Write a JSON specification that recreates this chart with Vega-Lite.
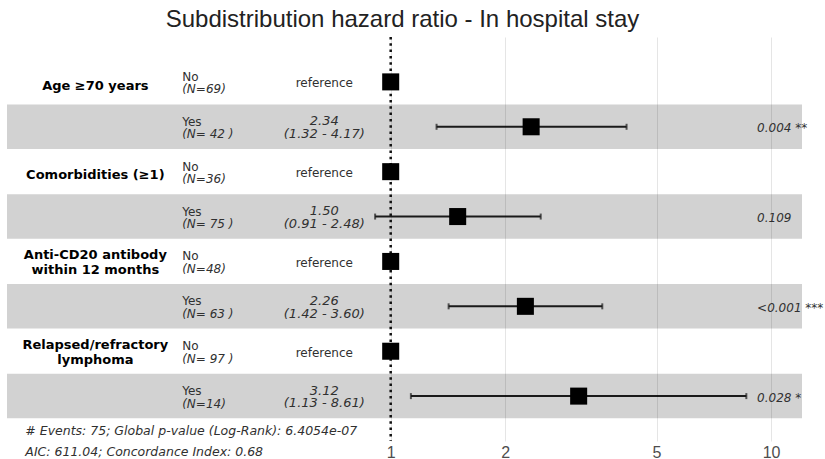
{
  "$schema": "https://vega.github.io/schema/vega-lite/v6.json",
  "width": 795,
  "height": 404,
  "autosize": {"type": "none"},
  "padding": {"left": 7, "top": 37, "right": 23, "bottom": 18},
  "background": "white",
  "config": {"view": {"stroke": null}, "text": {"font": "DejaVu Sans", "color": "#303030", "fontSize": 12}},
  "title": {
    "text": "Subdistribution hazard ratio - In hospital stay",
    "font": "Liberation Sans Narrow, Liberation Sans",
    "fontSize": 24,
    "fontWeight": "normal",
    "color": "#222222",
    "anchor": "middle",
    "frame": "group",
    "baseline": "alphabetic",
    "offset": 10,
    "dx": -2,
    "dy": 25
  },
  "datasets": {
    "rows": [
      {"row": 1, "variable": "Age ≥70 years", "level": "No", "n": "(N=69)", "est": 1, "est_text": "reference"},
      {"row": 2, "level": "Yes", "n": "(N= 42 )", "est": 2.34, "lo": 1.32, "hi": 4.17, "est_text": "2.34", "ci_text": "(1.32 - 4.17)", "p_text": "0.004 **"},
      {"row": 3, "variable": "Comorbidities (≥1)", "level": "No", "n": "(N=36)", "est": 1, "est_text": "reference"},
      {"row": 4, "level": "Yes", "n": "(N= 75 )", "est": 1.50, "lo": 0.91, "hi": 2.48, "est_text": "1.50", "ci_text": "(0.91 - 2.48)", "p_text": "0.109"},
      {"row": 5, "variable": "Anti-CD20 antibody\nwithin 12 months", "level": "No", "n": "(N=48)", "est": 1, "est_text": "reference"},
      {"row": 6, "level": "Yes", "n": "(N= 63 )", "est": 2.26, "lo": 1.42, "hi": 3.60, "est_text": "2.26", "ci_text": "(1.42 - 3.60)", "p_text": "<0.001 ***"},
      {"row": 7, "variable": "Relapsed/refractory\nlymphoma", "level": "No", "n": "(N= 97 )", "est": 1, "est_text": "reference"},
      {"row": 8, "level": "Yes", "n": "(N=14)", "est": 3.12, "lo": 1.13, "hi": 8.61, "est_text": "3.12", "ci_text": "(1.13 - 8.61)", "p_text": "0.028 *"}
    ],
    "notes": [
      {"line": 1, "note": "# Events: 75; Global p-value (Log-Rank): 6.4054e-07"},
      {"line": 2, "note": "AIC: 611.04; Concordance Index: 0.68"}
    ]
  },
  "data": {"name": "rows"},
  "layer": [
    {
      "transform": [{"filter": "datum.level === 'Yes'"}],
      "mark": {"type": "bar", "orient": "horizontal", "size": 44.5, "color": "#d2d2d2"},
      "encoding": {
        "y": {"field": "row", "type": "quantitative", "scale": {"domain": [0, 9], "reverse": true, "nice": false, "zero": false, "padding": 0}, "axis": null},
        "x": {
          "datum": 0.098,
          "type": "quantitative",
          "scale": {"type": "log", "domain": [0.098, 12.06], "nice": false, "padding": 0},
          "axis": {
            "values": [1, 2, 5, 10],
            "format": "d",
            "title": null,
            "domain": false,
            "ticks": false,
            "labelFont": "Liberation Sans",
            "labelFontSize": 16,
            "labelColor": "#4d4d4d",
            "labelPadding": 3,
            "grid": true,
            "gridColor": "#000000",
            "gridOpacity": 0.1,
            "zindex": 1
          }
        },
        "x2": {"datum": 12.06}
      }
    },
    {
      "transform": [{"filter": "datum.row === 1"}],
      "mark": {"type": "rule", "strokeDash": [2.5, 3.8], "strokeWidth": 2.5, "color": "#111111"},
      "encoding": {
        "x": {"datum": 1, "type": "quantitative"},
        "y": {"datum": 0, "type": "quantitative"},
        "y2": {"datum": 9}
      }
    },
    {
      "transform": [{"filter": "isValid(datum.lo)"}],
      "mark": {"type": "rule", "strokeWidth": 2, "color": "#1a1a1a"},
      "encoding": {
        "x": {"field": "lo", "type": "quantitative"},
        "x2": {"field": "hi"},
        "y": {"field": "row", "type": "quantitative"}
      }
    },
    {
      "transform": [{"filter": "isValid(datum.lo)"}],
      "mark": {"type": "tick", "orient": "vertical", "size": 6, "thickness": 2, "color": "#1a1a1a"},
      "encoding": {
        "x": {"field": "lo", "type": "quantitative"},
        "y": {"field": "row", "type": "quantitative"}
      }
    },
    {
      "transform": [{"filter": "isValid(datum.hi)"}],
      "mark": {"type": "tick", "orient": "vertical", "size": 6, "thickness": 2, "color": "#1a1a1a"},
      "encoding": {
        "x": {"field": "hi", "type": "quantitative"},
        "y": {"field": "row", "type": "quantitative"}
      }
    },
    {
      "mark": {"type": "point", "shape": "square", "filled": true, "size": 290, "color": "#000000", "opacity": 1},
      "encoding": {
        "x": {"field": "est", "type": "quantitative"},
        "y": {"field": "row", "type": "quantitative"}
      }
    },
    {
      "transform": [{"filter": "datum.level === 'No' && indexof(datum.variable, '\\n') < 0"}],
      "mark": {"type": "text", "align": "center", "baseline": "middle", "fontWeight": "bold", "fontSize": 13, "dy": 3.7, "color": "#000000"},
      "encoding": {
        "x": {"datum": 0.1673, "type": "quantitative"},
        "y": {"field": "row", "type": "quantitative"},
        "text": {"field": "variable"}
      }
    },
    {
      "transform": [{"filter": "datum.level === 'No' && indexof(datum.variable, '\\n') >= 0"}],
      "mark": {"type": "text", "align": "center", "baseline": "middle", "fontWeight": "bold", "fontSize": 13, "lineBreak": "\n", "lineHeight": 15, "dy": -6.5, "color": "#000000"},
      "encoding": {
        "x": {"datum": 0.1673, "type": "quantitative"},
        "y": {"field": "row", "type": "quantitative"},
        "text": {"field": "variable"}
      }
    },
    {
      "mark": {"type": "text", "align": "left", "baseline": "alphabetic", "dy": -1},
      "encoding": {
        "x": {"datum": 0.283, "type": "quantitative"},
        "y": {"field": "row", "type": "quantitative"},
        "text": {"field": "level"}
      }
    },
    {
      "mark": {"type": "text", "align": "left", "baseline": "alphabetic", "fontStyle": "italic", "dy": 11.5},
      "encoding": {
        "x": {"datum": 0.283, "type": "quantitative"},
        "y": {"field": "row", "type": "quantitative"},
        "text": {"field": "n"}
      }
    },
    {
      "transform": [{"filter": "datum.level === 'No'"}],
      "mark": {"type": "text", "align": "center", "baseline": "alphabetic", "dy": 5.5},
      "encoding": {
        "x": {"datum": 0.669, "type": "quantitative"},
        "y": {"field": "row", "type": "quantitative"},
        "text": {"field": "est_text"}
      }
    },
    {
      "transform": [{"filter": "datum.level === 'Yes'"}],
      "mark": {"type": "text", "align": "center", "baseline": "alphabetic", "fontStyle": "italic", "fontSize": 13, "dy": -1.5},
      "encoding": {
        "x": {"datum": 0.669, "type": "quantitative"},
        "y": {"field": "row", "type": "quantitative"},
        "text": {"field": "est_text"}
      }
    },
    {
      "transform": [{"filter": "datum.level === 'Yes'"}],
      "mark": {"type": "text", "align": "center", "baseline": "alphabetic", "fontStyle": "italic", "fontSize": 13, "dy": 11.3},
      "encoding": {
        "x": {"datum": 0.669, "type": "quantitative"},
        "y": {"field": "row", "type": "quantitative"},
        "text": {"field": "ci_text"}
      }
    },
    {
      "transform": [{"filter": "datum.level === 'Yes'"}],
      "mark": {"type": "text", "align": "left", "baseline": "alphabetic", "fontStyle": "italic", "dy": 5.5},
      "encoding": {
        "x": {"datum": 9.19, "type": "quantitative"},
        "y": {"field": "row", "type": "quantitative"},
        "text": {"field": "p_text"}
      }
    },
    {
      "data": {"name": "notes"},
      "transform": [{"filter": "datum.line === 1"}],
      "mark": {"type": "text", "align": "left", "baseline": "alphabetic", "fontStyle": "italic", "fontSize": 12.5},
      "encoding": {
        "x": {"datum": 0.1095, "type": "quantitative"},
        "y": {"datum": 8.863, "type": "quantitative"},
        "text": {"field": "note"}
      }
    },
    {
      "data": {"name": "notes"},
      "transform": [{"filter": "datum.line === 2"}],
      "mark": {"type": "text", "align": "left", "baseline": "alphabetic", "fontStyle": "italic", "fontSize": 12.5},
      "encoding": {
        "x": {"datum": 0.1095, "type": "quantitative"},
        "y": {"datum": 9.33, "type": "quantitative"},
        "text": {"field": "note"}
      }
    }
  ]
}
